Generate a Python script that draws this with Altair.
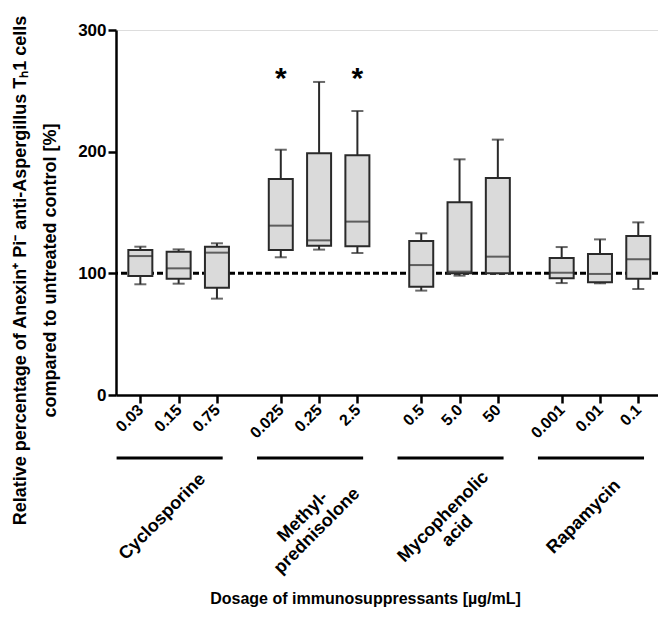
import altair as alt
import pandas as pd

# ---- data ----
drugs = ["Cyclosporine", "Methyl-\nprednisolone", "Mycophenolic\nacid", "Rapamycin"]
doses = ["0.03", "0.15", "0.75", "0.025", "0.25", "2.5", "0.5", "5.0", "50", "0.001", "0.01", "0.1"]
drug_index = [0, 0, 0, 1, 1, 1, 2, 2, 2, 3, 3, 3]
whisker_low = [91.0, 91.5, 79.2, 113.2, 119.5, 116.7, 85.8, 98.1, 100.0, 92.0, 91.8, 87.1]
quart_1 = [97.8, 95.6, 88.2, 119.2, 122.7, 122.2, 89.0, 100.0, 100.0, 95.9, 92.6, 95.6]
medians = [114.2, 104.1, 117.0, 139.2, 127.1, 142.5, 106.8, 101.4, 113.7, 100.5, 99.5, 111.5]
quart_3 = [119.2, 117.8, 121.9, 177.5, 198.6, 197.0, 126.6, 158.4, 178.4, 112.6, 115.9, 130.7]
whisker_high = [121.9, 119.7, 124.7, 201.6, 257.3, 233.4, 132.9, 193.7, 209.9, 121.6, 127.9, 141.9]
significant = [False, False, False, True, False, True, False, False, False, False, False, False]
control_level = 100
star_level = 265

# ---- layout helpers (positions on a linear x scale, gap between drug groups) ----
GAP = 0.667
pos = []
within = {}
for d in drug_index:
    i = within.get(d, 0)
    within[d] = i + 1
    pos.append(round(d * (3 + GAP) + i, 3))

df = pd.DataFrame({
    "x": pos, "dose": doses, "drug": [drugs[i] for i in drug_index],
    "low": whisker_low, "q1": quart_1, "med": medians, "q3": quart_3, "high": whisker_high,
    "sig": significant,
})
df_star = df[df["sig"]].assign(star="*", lvl=star_level)

grp = df.groupby("drug", sort=False)["x"].agg(["min", "max", "mean"]).reset_index()
grp["xs"] = grp["min"] - 0.62
grp["xe"] = grp["max"] + 0.15
grp["xm"] = grp["mean"] - 0.42

PX_PER_UNIT = 39.02
W, H = 542, 365
x0 = -0.505
xdom = [x0, x0 + W / PX_PER_UNIT]

label_expr = ("[" + ",".join("'%s'" % d for d in doses) + "][indexof(["
              + ",".join(str(p) for p in pos) + "], datum.value)]")

FONT = "Liberation Sans"
DARK = "#2a2a2a"

xscale = alt.Scale(domain=xdom, nice=False, zero=False)
yscale = alt.Scale(domain=[0, 300], nice=False)

xaxis = alt.Axis(
    values=pos, labelExpr=label_expr, labelAngle=315, labelAlign="right", labelBaseline="middle",
    labelFontSize=16, labelFontWeight="bold", labelFont=FONT, labelColor="black", labelPadding=4,
    tickSize=8, tickWidth=2.5, tickColor="black", domainColor="black", domainWidth=2.5,
    grid=False, labelOverlap=False, labelBound=False, labelFlush=False,
    title="Dosage of immunosuppressants [µg/mL]", titleFont=FONT, titleFontSize=16,
    titleFontWeight="bold", titleColor="black", titleX=249, titleY=208,
    titleAnchor="start", titleAlign="center", titleBaseline="alphabetic",
)
yaxis = alt.Axis(
    values=[0, 100, 200, 300], labelFontSize=17, labelFontWeight="bold", labelFont=FONT,
    labelColor="black", labelPadding=2, tickSize=8, tickWidth=2.5, tickColor="black",
    domainColor="black", domainWidth=2.5, grid=False,
    title=["Relative percentage of Anexin⁺ Pi⁻ anti-Aspergillus Tₕ1 cells",
           "compared to untreated control [%]"],
    titleFont=FONT, titleFontSize=18, titleFontWeight="bold", titleColor="black",
    titleAngle=270, titleX=-105, titleY=240, titleAlign="center", titleBaseline="top",
    titleLineHeight=30,
)

base = alt.Chart(df)

ref = alt.Chart(pd.DataFrame({"ref": [control_level]})).mark_rule(
    color="black", strokeWidth=3, strokeDash=[6, 3]
).encode(y=alt.Y("ref:Q", scale=yscale, axis=yaxis))

whisk = base.mark_rule(color=DARK, strokeWidth=2).encode(
    x=alt.X("x:Q", scale=xscale, axis=xaxis), y=alt.Y("low:Q", scale=yscale), y2="high:Q"
)
cap_lo = base.mark_tick(orient="horizontal", size=12, thickness=2, color=DARK).encode(
    x=alt.X("x:Q", scale=xscale), y=alt.Y("low:Q", scale=yscale)
)
cap_hi = base.mark_tick(orient="horizontal", size=12, thickness=2, color=DARK).encode(
    x=alt.X("x:Q", scale=xscale), y=alt.Y("high:Q", scale=yscale)
)
box = base.mark_bar(size=24, fill="#dadada", stroke=DARK, strokeWidth=2).encode(
    x=alt.X("x:Q", scale=xscale), y=alt.Y("q1:Q", scale=yscale), y2="q3:Q"
)
med = base.mark_tick(orient="horizontal", size=24, thickness=2, color=DARK).encode(
    x=alt.X("x:Q", scale=xscale), y=alt.Y("med:Q", scale=yscale)
)
stars = alt.Chart(df_star).mark_text(
    fontSize=30, fontWeight="bold", font=FONT, color="black", baseline="middle", dy=6
).encode(x=alt.X("x:Q", scale=xscale), y=alt.Y("lvl:Q", scale=yscale), text="star:N")

glines = alt.Chart(grp).mark_rule(color="black", strokeWidth=3).encode(
    x=alt.X("xs:Q", scale=xscale), x2="xe:Q", y=alt.value(428)
)
glabels = alt.Chart(grp).mark_text(
    angle=315, fontSize=18, fontWeight="bold", font=FONT, color="black",
    align="center", baseline="middle", lineBreak="\n", lineHeight=20
).encode(x=alt.X("xm:Q", scale=xscale), y=alt.value(487), text="drug:N")

chart = alt.layer(ref, whisk, cap_lo, cap_hi, box, med, stars, glines, glabels).properties(
    width=W, height=H,
    autosize=alt.AutoSizeParams(type="none"),
    padding={"left": 108, "top": 22, "right": 0, "bottom": 213},
).configure_view(stroke=None).configure(background="white")

chart.save("out.html", embed_options={"renderer": "svg", "actions": False})
